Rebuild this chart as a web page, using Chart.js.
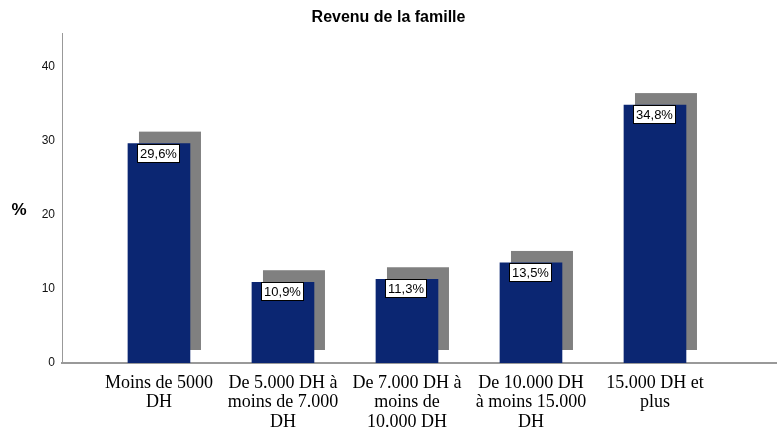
<!DOCTYPE html>
<html>
<head>
<meta charset="utf-8">
<script src="https://cdn.jsdelivr.net/npm/chart.js@4.4.1/dist/chart.umd.min.js"></script>
<style>
  html, body { margin: 0; padding: 0; background: #fff; }
  #wrap { width: 777px; height: 434px; }
</style>
</head>
<body>
<div id="wrap"><canvas id="revenuChart"></canvas></div>
<script>
const categories = [
  ['Moins de 5000', 'DH'],
  ['De 5.000 DH à', 'moins de 7.000', 'DH'],
  ['De 7.000 DH à', 'moins de', '10.000 DH'],
  ['De 10.000 DH', 'à moins 15.000', 'DH'],
  ['15.000 DH et', 'plus']
];
const percents = [29.6, 10.9, 11.3, 13.5, 34.8];
const yTicks = [0, 10, 20, 30, 40];

const fmt = v => v.toFixed(1).replace('.', ',') + '%';

// grey "3D" shadow behind each bar
const shadowPlugin = {
  id: 'barShadow',
  beforeDatasetsDraw(chart) {
    const ctx = chart.ctx;
    ctx.save();
    ctx.fillStyle = '#808080';
    chart.getDatasetMeta(0).data.forEach(bar => {
      const p = bar.getProps(['x', 'y', 'base', 'width'], true);
      const top = p.y - 12;
      ctx.fillRect(p.x - p.width / 2 + 11, top, p.width, (p.base - 13) - top);
    });
    ctx.restore();
  }
};

// boxed value labels + the upright "%" axis title
const labelPlugin = {
  id: 'boxLabels',
  afterDatasetsDraw(chart) {
    const ctx = chart.ctx;
    ctx.save();
    ctx.font = '13px Arial, "Liberation Sans", sans-serif';
    ctx.textAlign = 'center';
    ctx.textBaseline = 'middle';
    chart.getDatasetMeta(0).data.forEach((bar, i) => {
      const txt = fmt(percents[i]);
      const w = Math.round(ctx.measureText(txt).width) + 5;
      const h = 18;
      const x = Math.round(bar.x - w / 2) - 0.5;
      const y = Math.round(bar.y) + 0.5;
      ctx.fillStyle = '#fff';
      ctx.fillRect(x, y, w, h);
      ctx.strokeStyle = '#000';
      ctx.lineWidth = 1;
      ctx.strokeRect(x, y, w, h);
      ctx.fillStyle = '#000';
      ctx.fillText(txt, x + w / 2, y + h / 2 + 1);
    });
    ctx.font = 'bold 17px Arial, "Liberation Sans", sans-serif';
    ctx.fillText('%', 19, 210);
    ctx.restore();
  }
};

new Chart(document.getElementById('revenuChart'), {
  type: 'bar',
  data: {
    datasets: [{
      data: percents.map((v, i) => ({ x: i, y: v })),
      backgroundColor: '#0b2672',
      borderWidth: 0,
      barThickness: 62
    }]
  },
  options: {
    responsive: true,
    maintainAspectRatio: false,
    animation: false,
    layout: { padding: 0 },
    plugins: {
      legend: { display: false },
      tooltip: { enabled: false },
      title: {
        display: true,
        text: 'Revenu de la famille',
        color: '#000',
        font: { family: 'Arial, "Liberation Sans", sans-serif', size: 16, weight: 'bold' },
        padding: { top: 8, bottom: 6 }
      }
    },
    scales: {
      x: {
        type: 'linear',
        offset: false,
        min: -0.782,
        max: 4.984,
        grid: { display: false, drawTicks: false },
        border: { display: true, color: '#999', width: 2 },
        afterBuildTicks: s => { s.ticks = categories.map((c, i) => ({ value: i })); },
        afterFit: s => { s.height = 71; },
        ticks: {
          autoSkip: false,
          maxRotation: 0,
          minRotation: 0,
          padding: 10,
          color: '#000',
          font: { family: '"Times New Roman", "Liberation Serif", serif', size: 18, lineHeight: 1.1 },
          callback: v => categories[v]
        }
      },
      y: {
        min: 0,
        max: 44.5,
        grid: { display: false, drawTicks: false },
        border: { display: true, color: '#999', width: 1 },
        afterBuildTicks: s => { s.ticks = yTicks.map(v => ({ value: v })); },
        afterFit: s => { s.width = 62; },
        ticks: {
          padding: 7,
          color: '#111',
          font: { family: 'Arial, "Liberation Sans", sans-serif', size: 12 }
        }
      }
    }
  },
  plugins: [shadowPlugin, labelPlugin]
});
</script>
</body>
</html>
